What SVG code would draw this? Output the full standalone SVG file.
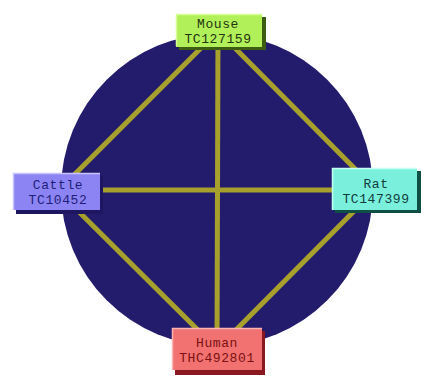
<svg xmlns="http://www.w3.org/2000/svg" width="432" height="382" viewBox="0 0 432 382">
<style>
.edge{stroke:#a8a02c;stroke-width:5;fill:none}
.lbl{font-family:"Liberation Mono","DejaVu Sans Mono",monospace;font-size:13px;letter-spacing:0.6px;text-anchor:middle}
.hl{fill:none;stroke-width:1.5}
</style>
<rect width="432" height="382" fill="#ffffff"/>
<circle cx="217" cy="190" r="156" fill="#231b6c"/>
<g id="connectors">
<line class="edge" x1="218" y1="31" x2="217" y2="350"/>
<line class="edge" x1="57" y1="190" x2="375" y2="190"/>
<line class="edge" x1="218" y1="31" x2="57" y2="192"/>
<line class="edge" x1="218" y1="31" x2="375" y2="189"/>
<line class="edge" x1="57" y1="190" x2="217" y2="349"/>
<line class="edge" x1="375" y1="190" x2="217" y2="349"/>
</g>
<g id="mouse">
<rect x="179" y="17" width="87" height="33" fill="#3d5e12"/>
<rect x="176" y="14" width="86" height="33" fill="#b2f05a"/>
<polyline class="hl" points="176.5,46 176.5,14.5 262,14.5" stroke="#d8ff98"/>
<text class="lbl" x="218" y="28" fill="#1f3410">Mouse</text>
<text class="lbl" x="218" y="43" fill="#1f3410">TC127159</text>
</g>
<g id="cattle">
<rect x="16" y="176" width="87" height="38" fill="#1e1660"/>
<rect x="13" y="173" width="87" height="37" fill="#8c84f2"/>
<polyline class="hl" points="13.5,210 13.5,173.5 100,173.5" stroke="#c8c2ff"/>
<text class="lbl" x="58" y="189" fill="#1e1e7a">Cattle</text>
<text class="lbl" x="58" y="204" fill="#1e1e7a">TC10452</text>
</g>
<g id="rat">
<rect x="335" y="171" width="86" height="42" fill="#0f4f44"/>
<rect x="332" y="168" width="85" height="42" fill="#7af0dc"/>
<polyline class="hl" points="332.5,210 332.5,168.5 417,168.5" stroke="#c4fff2"/>
<text class="lbl" x="376" y="188" fill="#123c3c">Rat</text>
<text class="lbl" x="376" y="203" fill="#123c3c">TC147399</text>
</g>
<g id="human">
<rect x="175" y="331" width="90" height="44" fill="#8a1820"/>
<rect x="172" y="328" width="90" height="42" fill="#f27272"/>
<polyline class="hl" points="172.5,370 172.5,328.5 262,328.5" stroke="#ffb4b4"/>
<text class="lbl" x="217" y="347" fill="#7a1010">Human</text>
<text class="lbl" x="217" y="362" fill="#7a1010">THC492801</text>
</g>
</svg>
